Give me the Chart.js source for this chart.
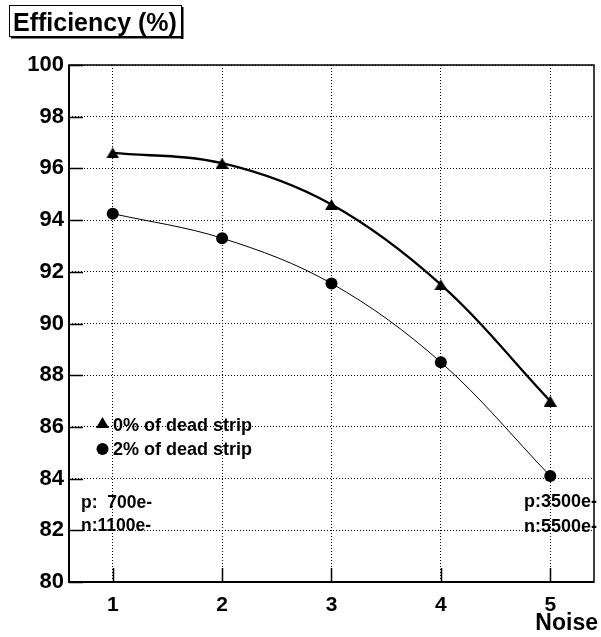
<!DOCTYPE html>
<html>
<head>
<meta charset="utf-8">
<script src="https://cdn.jsdelivr.net/npm/chart.js"></script>
<style>
  html, body { margin: 0; padding: 0; background: #fff; }
  canvas { display: block; }
</style>
</head>
<body>
<canvas id="graficoEff" width="601" height="637"></canvas>
<script>
// --- dados ---
var noise = [1, 2, 3, 4, 5];
var eff0 = [96.6, 96.2, 94.6, 91.5, 87.0];   // 0% of dead strip (triângulos)
var eff2 = [94.25, 93.3, 91.55, 88.5, 84.1]; // 2% of dead strip (círculos)
var xTicks = [1, 2, 3, 4, 5];
var yTicks = [80, 82, 84, 86, 88, 90, 92, 94, 96, 98, 100];
var seriesLabels = ['0% of dead strip', '2% of dead strip'];

var FONT = '"Liberation Sans", Arial, sans-serif';

// marcador triângulo estilo ROOT (centro = meio da caixa)
function makeTriangle(w, h) {
  var c = document.createElement('canvas');
  c.width = w; c.height = h;
  var g = c.getContext('2d');
  g.fillStyle = '#000';
  g.beginPath();
  g.moveTo(w / 2, 0);
  g.lineTo(w, h);
  g.lineTo(0, h);
  g.closePath();
  g.fill();
  return c;
}
var triMark = makeTriangle(13, 11);

function pts(vals) {
  return noise.map(function(x, i) { return { x: x, y: vals[i] }; });
}

function txt(ctx, s, x, y, size, align) {
  ctx.save();
  ctx.font = 'bold ' + size + 'px ' + FONT;
  ctx.fillStyle = '#000';
  ctx.textAlign = align || 'left';
  ctx.textBaseline = 'alphabetic';
  ctx.fillText(s, x, y);
  ctx.restore();
}

var rootDeco = {
  id: 'rootDeco',
  beforeDraw: function(chart) {
    var ctx = chart.ctx;
    ctx.save();
    ctx.fillStyle = '#fff';
    ctx.fillRect(0, 0, chart.width, chart.height);
    ctx.restore();
  },
  afterDraw: function(chart) {
    var ctx = chart.ctx;
    var a = chart.chartArea;
    var xs = chart.scales.x, ys = chart.scales.y;

    ctx.save();
    ctx.strokeStyle = '#000';
    // moldura
    ctx.lineWidth = 1.5;
    ctx.strokeRect(a.left, a.top, a.right - a.left, a.bottom - a.top);
    ctx.lineWidth = 2;
    ctx.beginPath();
    ctx.moveTo(a.left, a.top); ctx.lineTo(a.left, a.bottom); ctx.lineTo(a.right, a.bottom);
    ctx.stroke();

    // ticks internos
    ctx.lineWidth = 1.5;
    ctx.beginPath();
    yTicks.forEach(function(v) {
      var y = Math.round(ys.getPixelForValue(v)) + 0.5;
      ctx.moveTo(a.left, y); ctx.lineTo(a.left + 14, y);
    });
    xTicks.forEach(function(v) {
      var x = Math.round(xs.getPixelForValue(v)) + 0.5;
      ctx.moveTo(x, a.bottom); ctx.lineTo(x, a.bottom - 14);
    });
    ctx.stroke();

    // caixa do título
    ctx.lineWidth = 1;
    ctx.strokeRect(9.5, 5.5, 172, 31);
    ctx.fillStyle = '#000';
    ctx.fillRect(181, 7, 2.5, 32);
    ctx.fillRect(11, 36, 172, 2.5);
    ctx.restore();

    txt(ctx, 'Efficiency (%)', 13, 31, 25, 'left');
    txt(ctx, 'Noise', 598, 630, 23, 'right');

    // legenda
    ctx.drawImage(triMark, 96, 417);
    ctx.save();
    ctx.fillStyle = '#000';
    ctx.beginPath();
    ctx.arc(102.5, 449, 6, 0, Math.PI * 2);
    ctx.fill();
    ctx.restore();
    txt(ctx, seriesLabels[0], 113, 431, 18, 'left');
    txt(ctx, seriesLabels[1], 113, 455, 18, 'left');

    // anotações
    txt(ctx, 'p:  700e-', 81, 508, 17.5, 'left');
    txt(ctx, 'n:1100e-', 81, 531, 17.5, 'left');
    txt(ctx, 'p:3500e-', 597, 507, 18, 'right');
    txt(ctx, 'n:5500e-', 597, 532, 18, 'right');
  }
};

new Chart(document.getElementById('graficoEff').getContext('2d'), {
  type: 'scatter',
  data: {
    datasets: [
      {
        label: seriesLabels[0],
        data: pts(eff0),
        showLine: true,
        tension: 0.35,
        borderColor: '#000',
        borderWidth: 2.3,
        pointStyle: triMark,
        pointRadius: 7,
        pointBackgroundColor: '#000',
        pointBorderWidth: 0
      },
      {
        label: seriesLabels[1],
        data: pts(eff2),
        showLine: true,
        tension: 0.35,
        borderColor: '#000',
        borderWidth: 1,
        pointStyle: 'circle',
        pointRadius: 6,
        pointBackgroundColor: '#000',
        pointBorderWidth: 0
      }
    ]
  },
  options: {
    responsive: false,
    animation: false,
    layout: { padding: { top: 65, left: 0, right: 3, bottom: 0 } },
    plugins: { legend: { display: false }, tooltip: { enabled: false } },
    scales: {
      x: {
        type: 'linear',
        min: 0.6,
        max: 5.4,
        afterBuildTicks: function(s) { s.ticks = xTicks.map(function(v) { return { value: v }; }); },
        afterFit: function(s) { s.height = 55; },
        ticks: { color: '#000', font: { family: FONT, size: 21, weight: 'bold' }, padding: 11, maxRotation: 0 },
        grid: { color: '#000', lineWidth: 1, drawTicks: false },
        border: { display: false, dash: [1, 2] }
      },
      y: {
        min: 80,
        max: 100,
        afterBuildTicks: function(s) { s.ticks = yTicks.map(function(v) { return { value: v }; }); },
        afterFit: function(s) { s.width = 69; },
        ticks: { color: '#000', font: { family: FONT, size: 22, weight: 'bold' }, padding: 5 },
        grid: { color: '#000', lineWidth: 1, drawTicks: false },
        border: { display: false, dash: [1, 2] }
      }
    }
  },
  plugins: [rootDeco]
});
</script>
</body>
</html>
